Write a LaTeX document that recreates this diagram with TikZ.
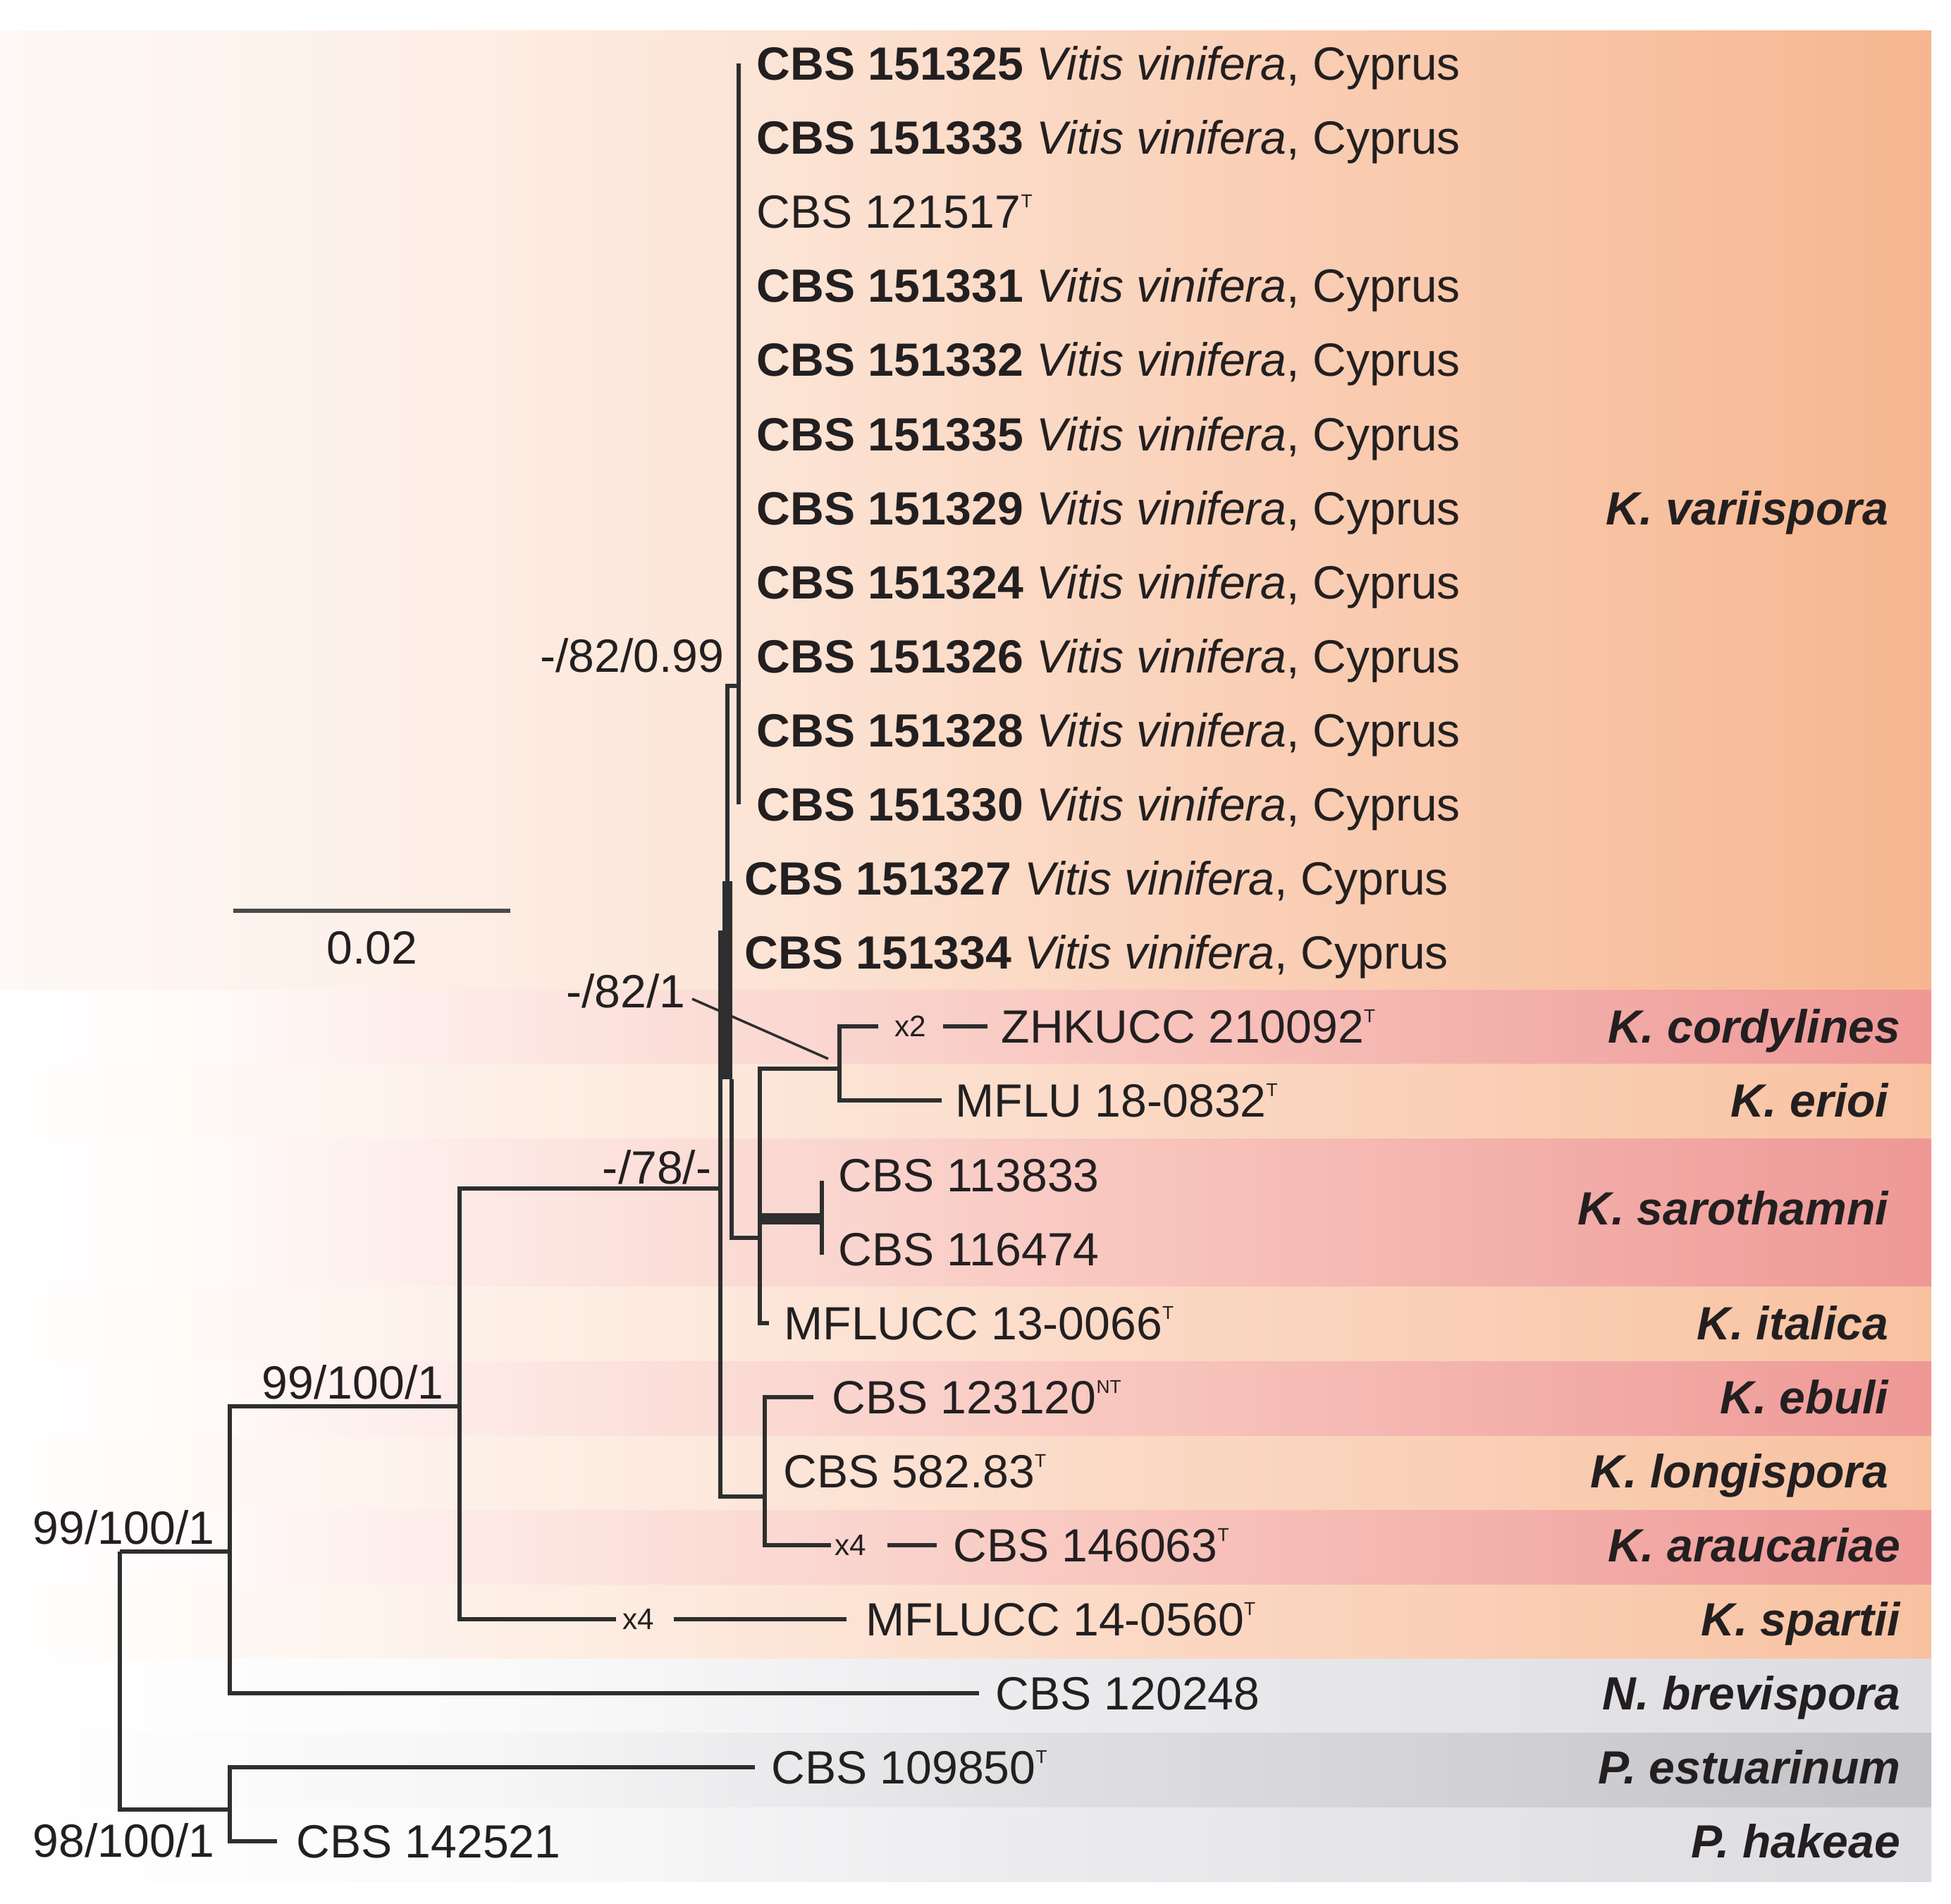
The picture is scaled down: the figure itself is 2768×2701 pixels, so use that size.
\documentclass[tikz,border=0pt]{standalone}
\usepackage{fontspec}
\setmainfont{Liberation Sans}
\usetikzlibrary{calc}

\definecolor{linec}{HTML}{2E2E2E}
\definecolor{txtc}{HTML}{231F20}
\definecolor{sbc}{HTML}{4A4A4A}
% variispora band
\definecolor{vA0}{HTML}{FEF9F6}
\definecolor{vA1}{HTML}{FDF1EA}
\definecolor{vA2}{HTML}{FCE4D5}
\definecolor{vA3}{HTML}{FAD2BA}
\definecolor{vA4}{HTML}{F6B690}
% lower peach
\definecolor{pe0}{HTML}{FFFFFF}
\definecolor{pe1}{HTML}{FEF9F5}
\definecolor{pe2}{HTML}{FDEBE0}
\definecolor{pe3}{HTML}{FBD9C5}
\definecolor{pe4}{HTML}{F8C2A1}
% pink
\definecolor{pk0}{HTML}{FFFFFF}
\definecolor{pk1}{HTML}{FFFAF9}
\definecolor{pk2}{HTML}{FCE0DB}
\definecolor{pk3}{HTML}{F8C6BE}
\definecolor{pk4}{HTML}{EE9896}
% greys
\definecolor{gl0}{HTML}{FFFFFF}
\definecolor{gl1}{HTML}{FAFAFA}
\definecolor{gl2}{HTML}{EBEBEE}
\definecolor{gl3}{HTML}{DDDDE1}
\definecolor{gd0}{HTML}{FFFFFF}
\definecolor{gd1}{HTML}{F6F6F7}
\definecolor{gd2}{HTML}{DFDFE2}
\definecolor{gd3}{HTML}{C3C3C7}

\pgfdeclarehorizontalshading{shVar}{100bp}{color(0bp)=(vA0); color(25bp)=(vA0); color(34.1bp)=(vA1); color(45.1bp)=(vA2); color(56bp)=(vA3); color(75bp)=(vA4); color(100bp)=(vA4)}
\pgfdeclarehorizontalshading{shPe}{100bp}{color(0bp)=(pe0); color(25bp)=(pe0); color(30.5bp)=(pe1); color(41.4bp)=(pe2); color(54.2bp)=(pe3); color(75bp)=(pe4); color(100bp)=(pe4)}
\pgfdeclarehorizontalshading{shPk}{100bp}{color(0bp)=(pk0); color(25bp)=(pk0); color(30.5bp)=(pk1); color(41.4bp)=(pk2); color(54.2bp)=(pk3); color(75bp)=(pk4); color(100bp)=(pk4)}
\pgfdeclarehorizontalshading{shGl}{100bp}{color(0bp)=(gl0); color(25bp)=(gl0); color(37.8bp)=(gl1); color(52.4bp)=(gl2); color(75bp)=(gl3); color(100bp)=(gl3)}
\pgfdeclarehorizontalshading{shGd}{100bp}{color(0bp)=(gd0); color(25bp)=(gd0); color(37.8bp)=(gd1); color(52.4bp)=(gd2); color(75bp)=(gd3); color(100bp)=(gd3)}

\newcommand{\treefont}{\fontsize{18.8pt}{22pt}\selectfont}
\newcommand{\xfont}{\fontsize{12pt}{14pt}\selectfont}
\newcommand{\tsup}[1]{\raisebox{8.3pt}{\fontsize{7.5pt}{7.5pt}\selectfont #1}}
\newcommand{\vv}{\textit{Vitis vinifera}, Cyprus}

\begin{document}
\begin{tikzpicture}[x=0.01cm,y=-0.01cm,
  tl/.style={line width=1.6pt, draw=linec, line join=miter},
  lab/.style={anchor=west, inner sep=0pt, text height=13.5pt, text depth=0pt, font=\treefont, text=txtc},
  supp/.style={anchor=east, inner sep=0pt, text height=13.5pt, text depth=0pt, font=\treefont, text=txtc},
  clade/.style={anchor=east, inner sep=0pt, text height=13.5pt, text depth=0pt, font=\treefont\bfseries\itshape, text=txtc},
  xn/.style={inner sep=0pt, font=\xfont, text=txtc}
]
\useasboundingbox (0,0) rectangle (2768,2701);
\fill[white] (0,0) rectangle (2768,2701);

% ---------- background bands ----------
\shade[shading=shVar] (0,44) rectangle (2740,1405);
\shade[shading=shPk] (0,1405) rectangle (2740,1510);
\shade[shading=shPe] (0,1510) rectangle (2740,1616);
\shade[shading=shPk] (0,1616) rectangle (2740,1826);
\shade[shading=shPe] (0,1826) rectangle (2740,1932);
\shade[shading=shPk] (0,1932) rectangle (2740,2037);
\shade[shading=shPe] (0,2037) rectangle (2740,2142);
\shade[shading=shPk] (0,2142) rectangle (2740,2248);
\shade[shading=shPe] (0,2248) rectangle (2740,2353);
\shade[shading=shGl] (0,2353) rectangle (2740,2458);
\shade[shading=shGd] (0,2458) rectangle (2740,2564);
\shade[shading=shGl] (0,2564) rectangle (2740,2669);

% ---------- tip labels ----------
\node[lab] (l0)  at (1073,90)   {\textbf{CBS 151325} \vv};
\node[lab] (l1)  at (1073,195)  {\textbf{CBS 151333} \vv};
\node[lab] (l2)  at (1073,300)  {CBS 121517\tsup{T}};
\node[lab] (l3)  at (1073,405)  {\textbf{CBS 151331} \vv};
\node[lab] (l4)  at (1073,510)  {\textbf{CBS 151332} \vv};
\node[lab] (l5)  at (1073,616)  {\textbf{CBS 151335} \vv};
\node[lab] (l6)  at (1073,721)  {\textbf{CBS 151329} \vv};
\node[lab] (l7)  at (1073,826)  {\textbf{CBS 151324} \vv};
\node[lab] (l8)  at (1073,931)  {\textbf{CBS 151326} \vv};
\node[lab] (l9)  at (1073,1036) {\textbf{CBS 151328} \vv};
\node[lab] (l10) at (1073,1141) {\textbf{CBS 151330} \vv};
\node[lab] (l11) at (1056,1246) {\textbf{CBS 151327} \vv};
\node[lab] (l12) at (1056,1351) {\textbf{CBS 151334} \vv};
\node[lab] (l13) at (1420,1456) {ZHKUCC 210092\tsup{T}};
\node[lab] (l14) at (1355,1561) {MFLU 18-0832\tsup{T}};
\node[lab] (l15) at (1189,1667) {CBS 113833};
\node[lab] (l16) at (1189,1772) {CBS 116474};
\node[lab] (l17) at (1112,1877) {MFLUCC 13-0066\tsup{T}};
\node[lab] (l18) at (1180,1982) {CBS 123120\tsup{NT}};
\node[lab] (l19) at (1111,2087) {CBS 582.83\tsup{T}};
\node[lab] (l20) at (1352,2192) {CBS 146063\tsup{T}};
\node[lab] (l21) at (1228,2297) {MFLUCC 14-0560\tsup{T}};
\node[lab] (l22) at (1412,2402) {CBS 120248};
\node[lab] (l23) at (1094,2507) {CBS 109850\tsup{T}};
\node[lab] (l24) at (420,2612)  {CBS 142521};

% ---------- clade labels ----------
\node[clade] (cVar) at (2680,721)  {K. variispora};
\node[clade] (cCor) at (2697,1456) {K. cordylines};
\node[clade] (cEri) at (2680,1561) {K. erioi};
\node[clade] (cSar) at (2680,1714) {K. sarothamni};
\node[clade] (cIta) at (2680,1877) {K. italica};
\node[clade] (cEbu) at (2680,1982) {K. ebuli};
\node[clade] (cLon) at (2680,2087) {K. longispora};
\node[clade] (cAra) at (2697,2192) {K. araucariae};
\node[clade] (cSpa) at (2697,2297) {K. spartii};
\node[clade] (cBre) at (2697,2402) {N. brevispora};
\node[clade] (cEst) at (2697,2507) {P. estuarinum};
\node[clade] (cHak) at (2697,2612) {P. hakeae};

% ---------- support values ----------
\node[supp] (s1) at (1028,930)  {-/82/0.99};
\node[supp] (s2) at (973,1406)  {-/82/1};
\node[supp] (s3) at (1010,1656) {-/78/-};
\node[supp] (s4) at (630,1961)  {99/100/1};
\node[supp] (s5) at (305,2167)  {99/100/1};
\node[supp] (s6) at (305,2611)  {98/100/1};

% ---------- branch-length break marks ----------
\node[xn] (x2)  at (1292,1456) {x2};
\node[xn] (x4a) at (1207,2192) {x4};
\node[xn] (x4b) at (906,2297)  {x4};

% ---------- internal nodes ----------
\coordinate (Vt) at (1048,90);
\coordinate (Vb) at (1048,1141);
\coordinate (V)  at (1048,973);
\coordinate (W)  at (1032,1250);
\coordinate (Wb) at (1032,1531);
\coordinate (Ct) at (1022,1320);
\coordinate (C)  at (1022,1686);
\coordinate (X)  at (1038,1531);
\coordinate (K)  at (1078,1756);
\coordinate (K2) at (1078,1729);
\coordinate (S)  at (1166,1729);
\coordinate (St) at (1166,1675);
\coordinate (Sb) at (1166,1780);
\coordinate (M)  at (1191,1516);
\coordinate (L)  at (1085,2123);
\coordinate (B)  at (652,1995);
\coordinate (A)  at (326,2201);
\coordinate (R)  at (170,2201);
\coordinate (P)  at (326,2567);
\coordinate (ldr) at (1175,1502);
\coordinate (sb1) at (331,1292);
\coordinate (sb2) at (724,1292);

% ---------- tree ----------
\draw[tl] (Vt) -- (Vb);
\draw[tl] (W) |- (V);
\draw[line width=0.14cm, draw=linec] (W) -- (Wb);
\draw[tl] (Ct) -- (C);
\draw[tl] (C) |- (L);
\draw[tl] (X) |- (K);
\draw[tl] (K) |- (M);
\draw[tl, shorten >=0.21cm] (K) |- (l17.west);
\draw[line width=0.15cm, draw=linec] (K2) -- (S);
\draw[tl] (St) -- (Sb);
\draw[tl, shorten >=0.23cm] (M) |- (x2.west);
\draw[tl, shorten <=0.23cm, shorten >=0.19cm] (x2.east) -- (l13.west);
\draw[tl, shorten >=0.19cm] (M) |- (l14.west);
\draw[tl, shorten >=0.26cm] (L) |- (l18.west);
\draw[tl, shorten >=0.05cm] (L) |- (x4a.west);
\draw[tl, shorten <=0.29cm, shorten >=0.23cm] (x4a.east) -- (l20.west);
\draw[tl] (B) |- (C);
\draw[tl, shorten >=0.09cm] (B) |- (x4b.west);
\draw[tl, shorten <=0.27cm, shorten >=0.27cm] (x4b.east) -- (l21.west);
\draw[tl] (A) |- (B);
\draw[tl, shorten >=0.23cm] (A) |- (l22.west);
\draw[tl] (R) |- (A);
\draw[tl] (R) |- (P);
\draw[tl, shorten >=0.23cm] (P) |- (l23.west);
\draw[tl, shorten >=0.27cm] (P) |- (l24.west);

% leader for -/82/1
\draw[line width=1pt, draw=linec] ($(s2.east)+(9,11)$) -- (ldr);

% ---------- scale bar ----------
\draw[line width=1.8pt, draw=sbc] (sb1) -- (sb2);
\node[lab, anchor=center] (sbl) at (528,1344) {0.02};
\end{tikzpicture}
\end{document}
